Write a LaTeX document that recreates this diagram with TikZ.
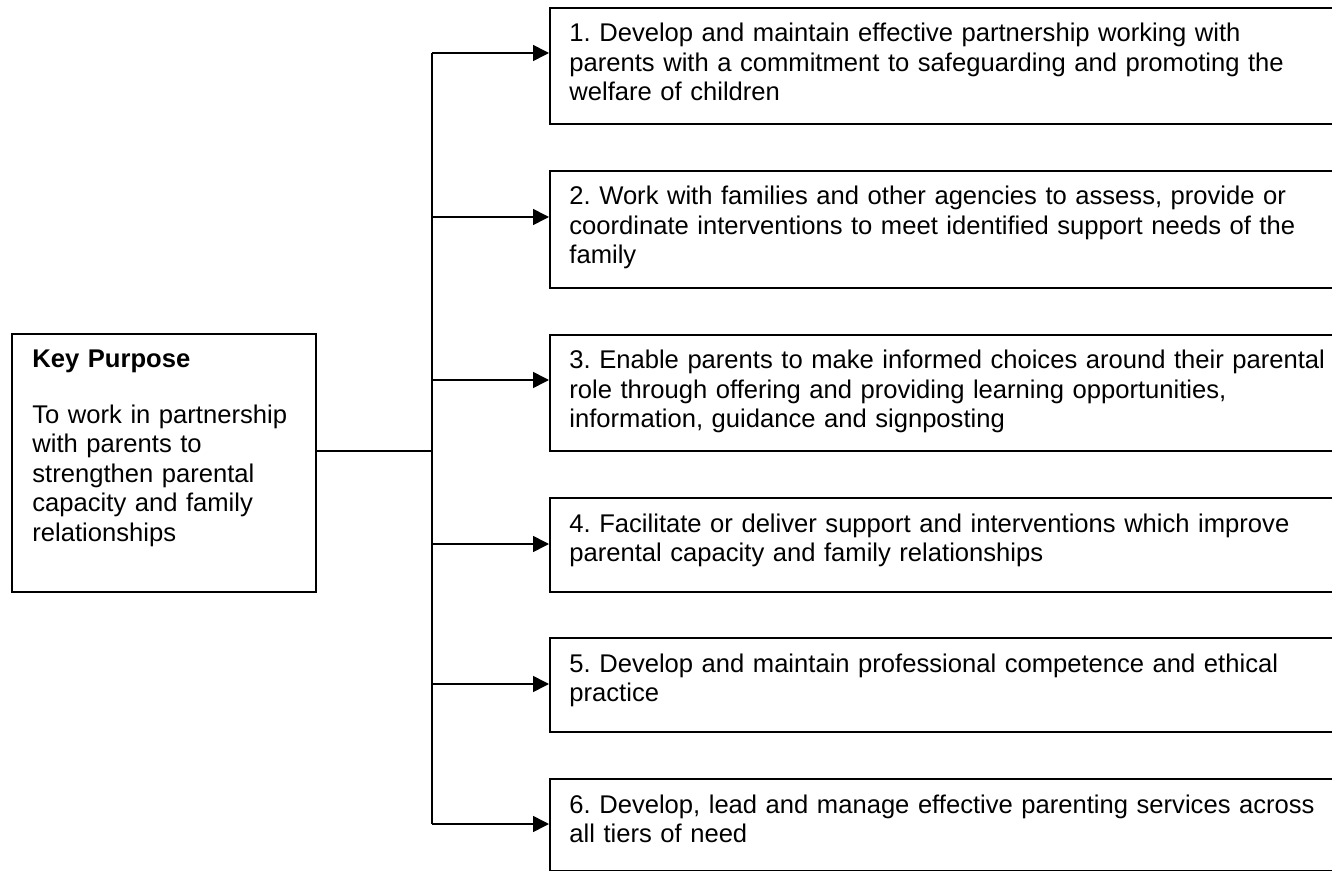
\documentclass[tikz,border=0pt]{standalone}
\usepackage{fontspec}
\setmainfont{Liberation Sans}
\usetikzlibrary{arrows.meta,calc}
\tikzset{
	framebox/.style={draw, line width=1pt, anchor=north west, inner sep=0pt},
	boxtext/.style={anchor=base west, inner sep=0pt, align=left, text width=400pt,
		font=\fontsize{12.8}{14.7}\selectfont\frenchspacing},
	link/.style={line width=0.8pt},
	arrowlink/.style={line width=0.8pt, -{Triangle[length=8pt,width=8pt]}}
}

\begin{document}
\begin{tikzpicture}[x=0.5pt, y=-0.5pt]
		%%%%% START %%%%%
		
		\useasboundingbox (0, 0) rectangle (1332, 871);
		\clip (0, 0) rectangle (1332, 871);
		
		% key purpose
		\node[framebox, minimum width=152pt, minimum height=129pt] (kp) at (11, 333) {};
		\node[boxtext, text width=140pt] (kptext) at ([shift={(21, 34)}]kp.north west)
			{\textbf{Key Purpose}\\[13.5pt]
			To work in partnership\\
			with parents to\\
			strengthen parental\\
			capacity and family\\
			relationships};
		
		% the six roles
		\node[framebox, minimum width=395.5pt, minimum height=58pt] (b1) at (549, 7) {};
		\node[framebox, minimum width=395.5pt, minimum height=58.5pt] (b2) at (549, 170) {};
		\node[framebox, minimum width=395.5pt, minimum height=58pt] (b3) at (549, 334) {};
		\node[framebox, minimum width=395.5pt, minimum height=47pt] (b4) at (549, 497) {};
		\node[framebox, minimum width=395.5pt, minimum height=47pt] (b5) at (549, 637) {};
		\node[framebox, minimum width=395.5pt, minimum height=46pt] (b6) at (549, 778) {};
		
		\node[boxtext] (t1) at ([shift={(20, 35)}]b1.north west)
			{1. Develop and maintain effective partnership working with\\
			parents with a commitment to safeguarding and promoting the\\
			welfare of children};
		\node[boxtext] (t2) at ([shift={(20, 35)}]b2.north west)
			{2. Work with families and other agencies to assess, provide or\\
			coordinate interventions to meet identified support needs of the\\
			family};
		\node[boxtext] (t3) at ([shift={(20, 35)}]b3.north west)
			{3. Enable parents to make informed choices around their parental\\
			role through offering and providing learning opportunities,\\
			information, guidance and signposting};
		\node[boxtext] (t4) at ([shift={(20, 35)}]b4.north west)
			{4. Facilitate or deliver support and interventions which improve\\
			parental capacity and family relationships};
		\node[boxtext] (t5) at ([shift={(20, 35)}]b5.north west)
			{5. Develop and maintain professional competence and ethical\\
			practice};
		\node[boxtext] (t6) at ([shift={(20, 35)}]b6.north west)
			{6. Develop, lead and manage effective parenting services across\\
			all tiers of need};
		
		% connectors
		\coordinate (hub) at (432, 451);
		\coordinate (spinetop) at (432, 53);
		\coordinate (spinebot) at (432, 824);
		\draw[link] (kp.east |- hub) -- (hub);
		\draw[link] (spinetop) -- (spinebot);
		\foreach \i/\y in {1/53, 2/217, 3/380, 4/544, 5/684, 6/824}
			\draw[arrowlink] (hub |- 0, \y) -- (b\i.west |- 0, \y);
		
		%%%%% END %%%%%
	\end{tikzpicture}
\end{document}
